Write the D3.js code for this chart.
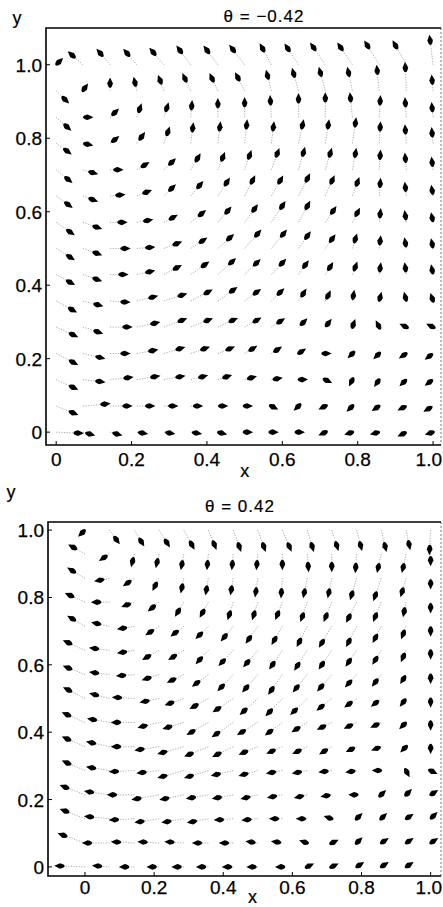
<!DOCTYPE html>
<html>
<head>
<meta charset="utf-8">
<script src="https://cdn.jsdelivr.net/npm/d3@7"></script>
<style>
  body { margin: 0; background: #fff; }
  text { font-family: "Liberation Sans", Arial, sans-serif; fill: #000; }
  .tick-label { font-size: 19px; stroke: #000; stroke-width: 0.25; }
  .title { font-size: 17px; letter-spacing: 1px; stroke: #000; stroke-width: 0.2; }
  .axis-label { font-size: 18px; stroke: #000; stroke-width: 0.2; }
  .tail { stroke: #888; stroke-width: 0.7; stroke-dasharray: 1.2,1.4; fill: none; }
  .head { fill: #000; }
  .frame { stroke: #000; stroke-width: 1.6; fill: none; }
  .frame-right { stroke: #777; stroke-width: 1; stroke-dasharray: 2,2; }
</style>
</head>
<body>
<script>
// grid points (tails of the arrows), same for both panels
var gridX = [0, 0.071, 0.143, 0.214, 0.286, 0.357, 0.429, 0.5, 0.571, 0.643, 0.714, 0.786, 0.857, 0.929, 1.0];
var gridY = [0, 0.071, 0.143, 0.214, 0.286, 0.357, 0.429, 0.5, 0.571, 0.643, 0.714, 0.786, 0.857, 0.929, 1.0];

var tickValues = [0, 0.2, 0.4, 0.6, 0.8, 1.0];
var tickLabels = ["0", "0.2", "0.4", "0.6", "0.8", "1.0"];

// theta = -0.42 : vector components, rows from y=0 (first) to y=1 (last)
var topU = [
  [22, 7, 7, 6, 6, 6, 4, 3, 2, 1, -2, -3, -4, -4, -3],
  [17, 22, 17, 13, 9, 7, 5, 3, 2, -1, -2, -2, -3, -4, -5],
  [17, 17, 18, 18, 16, 12, 9, 7, 6, 4, 2, -1, -2, -3, -4],
  [17, 17, 15, 16, 16, 14, 12, 8, 6, 3, 1, -1, -2, -3, -4],
  [17, 15, 17, 18, 18, 17, 15, 12, 9, 5, 3, 1, -1, -2, -2],
  [16, 15, 15, 16, 18, 17, 15, 12, 9, 5, 3, 1, 1, -1, -1],
  [14, 14, 13, 13, 13, 14, 14, 12, 11, 7, 5, 3, 1, -1, -1],
  [14, 14, 15, 13, 13, 12, 12, 13, 12, 9, 7, 3, 1, -1, -1],
  [14, 14, 12, 11, 9, 11, 10, 10, 11, 9, 8, 5, 1, -1, -1],
  [12, 10, 10, 10, 8, 9, 9, 8, 9, 9, 7, 5, 1, -1, -1],
  [12, 10, 8, 8, 8, 7, 5, 5, 6, 5, 5, 3, 1, -1, -1],
  [11, 5, 5, 5, 4, 2, 2, 2, 2, 4, 3, 3, 1, -1, -1],
  [11, 5, 5, 3, 3, 1, 0, 0, -1, 0, 0, -2, 1, -1, -1],
  [9, 2, 0, -2, -4, -6, -6, -7, -4, -5, -5, -4, -2, -1, -1],
  [3, -11, -10, -10, -11, -11, -11, -12, -9, -11, -12, -12, -12, -11, -3]
];
var topV = [
  [-1, -2, -2, -1, -1, -1, -1, 0, 0, 0, -1, -1, -1, -2, -1],
  [-7, 2, 0, 0, 0, 0, 0, 0, -1, -1, -1, -2, -2, -2, -3],
  [-8, -2, 2, 3, 3, 3, 3, 2, 1, 0, -1, -2, -3, -3, -3],
  [-9, -4, 0, 3, 5, 5, 5, 5, 4, 2, 0, -1, -2, -2, -3],
  [-8, -5, 0, 4, 7, 7, 7, 7, 6, 5, 4, 3, 2, 1, 1],
  [-9, -4, -1, 4, 6, 9, 11, 9, 9, 8, 6, 6, 4, 4, 3],
  [-8, -5, 0, 3, 7, 10, 13, 12, 12, 10, 8, 8, 7, 7, 5],
  [-9, -5, 0, 1, 5, 8, 11, 15, 15, 13, 10, 10, 8, 6, 5],
  [-10, -5, 0, 2, 5, 9, 12, 14, 17, 17, 12, 10, 9, 7, 5],
  [-9, -4, 1, 4, 8, 11, 14, 16, 16, 18, 16, 14, 13, 9, 6],
  [-10, -3, 0, 5, 8, 12, 13, 15, 17, 18, 17, 17, 15, 12, 8],
  [-8, -1, 4, 7, 12, 16, 17, 19, 17, 19, 19, 21, 17, 14, 11],
  [-10, 0, 5, 9, 10, 12, 14, 15, 17, 19, 20, 20, 17, 15, 10],
  [-9, 3, 8, 9, 11, 13, 13, 14, 16, 18, 19, 19, 21, 24, 11],
  [3, 10, 12, 12, 13, 15, 15, 16, 17, 17, 18, 18, 20, 20, 25]
];

// theta = 0.42
var botU = [
  [-25, -12, -10, -7, -7, -7, -6, -6, -2, 2, 2, 3, 3, 3, 0],
  [-22, -22, -18, -16, -14, -11, -9, -7, -6, -3, 2, 2, 3, 3, 3],
  [-20, -20, -20, -19, -17, -16, -14, -11, -8, -6, -3, 2, 2, 3, 3],
  [-20, -20, -22, -22, -19, -17, -16, -12, -10, -8, -6, -3, 1, 2, 3],
  [-18, -18, -20, -17, -21, -19, -17, -14, -11, -10, -8, -6, -4, 1, 2],
  [-18, -18, -18, -19, -21, -19, -16, -14, -11, -10, -8, -6, -5, -2, 0],
  [-18, -17, -18, -16, -16, -17, -17, -16, -13, -11, -10, -8, -6, -3, 0],
  [-17, -15, -17, -14, -14, -14, -16, -14, -13, -13, -11, -8, -6, -3, 0],
  [-17, -15, -13, -12, -12, -12, -12, -12, -11, -11, -11, -8, -6, -3, 0],
  [-17, -15, -12, -12, -11, -9, -11, -11, -10, -10, -10, -8, -6, -3, 0],
  [-13, -13, -12, -9, -9, -9, -9, -9, -8, -8, -10, -8, -6, -3, 0],
  [-15, -13, -8, -7, -6, -6, -4, -4, -5, -5, -6, -8, -6, -2, 0],
  [-13, -10, -7, -4, -2, -2, -2, -2, -1, -3, -3, -5, -6, -4, 0],
  [-12, -6, -2, -2, -2, -1, -1, -1, 0, 1, 0, -1, -3, -3, 0],
  [-3, 7, 7, 8, 8, 6, 6, 6, 7, 5, 5, 4, 4, 3, -1]
];
var botV = [
  [1, 1, 0, 0, 0, 0, 0, 0, 0, 1, 1, 2, 2, 2, 0],
  [8, 0, 1, 1, 1, 0, 0, 1, 1, 1, 1, 2, 2, 2, 2],
  [8, 2, -1, -3, -3, -3, -1, -1, 0, 0, 1, 2, 2, 2, 3],
  [8, 3, 0, -4, -4, -3, -3, -3, -2, -2, -1, 0, 1, 2, 2],
  [8, 3, -1, -2, -6, -6, -4, -4, -2, -2, -1, -1, 0, -2, -1],
  [8, 4, 0, -3, -6, -8, -8, -6, -5, -5, -5, -3, -2, -2, -2],
  [8, 3, 0, -4, -5, -10, -12, -10, -10, -7, -5, -4, -3, -3, -3],
  [9, 4, 1, -3, -5, -8, -11, -13, -14, -13, -9, -6, -5, -4, -4],
  [7, 2, -1, -4, -6, -9, -13, -14, -16, -14, -13, -9, -8, -5, -4],
  [8, 2, -2, -7, -7, -10, -12, -13, -15, -16, -15, -12, -10, -7, -4],
  [8, 3, -2, -6, -7, -9, -11, -13, -14, -16, -17, -16, -12, -8, -5],
  [7, 0, -3, -6, -10, -11, -13, -13, -13, -15, -15, -16, -15, -10, -6],
  [8, -2, -5, -8, -10, -12, -12, -14, -15, -15, -15, -17, -18, -14, -6],
  [7, -4, -8, -9, -11, -11, -11, -11, -11, -13, -13, -14, -14, -14, -7],
  [-3, -10, -12, -13, -15, -15, -17, -17, -17, -17, -16, -16, -17, -15, -20]
];

var svg = d3.select("body").append("svg")
    .attr("width", 443)
    .attr("height", 907);

// arrow head, pointing along +x, centred on the vector end
var headPath = "M5.4,0 L-0.4,-2.8 Q-5,-1.8 -5,0 Q-5,1.8 -0.4,2.8 Z";

function drawPanel(p) {
  var x = d3.scaleLinear().domain(p.xDomain).range([p.left, p.right]);
  var y = d3.scaleLinear().domain(p.yDomain).range([p.bottom, p.top]);
  var g = svg.append("g");

  // arrows
  var arrows = [];
  p.u.forEach(function(row, j) {
    row.forEach(function(u, i) {
      var v = p.v[j][i];
      if (u === 0 && v === 0) return;
      arrows.push({x: gridX[i], y: gridY[j], u: u, v: v});
    });
  });

  var a = g.selectAll(".arrow").data(arrows).enter().append("g")
      .attr("class", "arrow");

  a.append("line")
      .attr("class", "tail")
      .attr("x1", function(d) { return x(d.x); })
      .attr("y1", function(d) { return y(d.y); })
      .attr("x2", function(d) { return x(d.x + d.u * p.k); })
      .attr("y2", function(d) { return y(d.y + d.v * p.k); });

  a.append("path")
      .attr("class", "head")
      .attr("d", headPath)
      .attr("transform", function(d) {
        var x1 = x(d.x + d.u * p.k), y1 = y(d.y + d.v * p.k);
        var ang = Math.atan2(y1 - y(d.y), x1 - x(d.x)) * 180 / Math.PI;
        return "translate(" + x1 + "," + y1 + ") rotate(" + ang + ")";
      });

  // frame
  g.append("line").attr("class", "frame-right")
      .attr("x1", p.right).attr("y1", p.top).attr("x2", p.right).attr("y2", p.bottom);
  g.append("path").attr("class", "frame")
      .attr("d", "M" + p.right + "," + p.top + "H" + p.left + "V" + p.bottom + "H" + p.right);

  // ticks
  g.selectAll(".xtick").data(tickValues).enter().append("line")
      .attr("stroke", "#000").attr("stroke-width", 1)
      .attr("x1", function(d) { return x(d); }).attr("x2", function(d) { return x(d); })
      .attr("y1", p.bottom).attr("y2", p.bottom - 4);
  g.selectAll(".ytick").data(tickValues).enter().append("line")
      .attr("stroke", "#000").attr("stroke-width", 1)
      .attr("y1", function(d) { return y(d); }).attr("y2", function(d) { return y(d); })
      .attr("x1", p.left).attr("x2", p.left + 4);

  // tick labels (the last x label is kept inside the page edge)
  g.selectAll(".xlab").data(tickValues).enter().append("text")
      .attr("class", "tick-label")
      .attr("text-anchor", function(d, i) { return i === tickValues.length - 1 ? "end" : "middle"; })
      .attr("x", function(d, i) { return i === tickValues.length - 1 ? 442 : x(d); })
      .attr("y", p.xTickBase)
      .text(function(d, i) { return tickLabels[i]; });
  g.selectAll(".ylab").data(tickValues).enter().append("text")
      .attr("class", "tick-label")
      .attr("text-anchor", "end")
      .attr("x", p.left - 4)
      .attr("y", function(d) { return y(d) + 7; })
      .text(function(d, i) { return tickLabels[i]; });

  // axis names and title
  g.append("text").attr("class", "axis-label")
      .attr("text-anchor", "middle")
      .attr("x", x(p.xLabelAt)).attr("y", p.xLabelBase)
      .text("x");
  g.append("text").attr("class", "axis-label")
      .attr("text-anchor", "middle")
      .attr("x", p.yLabelX).attr("y", p.yLabelBase)
      .text("y");
  g.append("text").attr("class", "title")
      .attr("text-anchor", "middle")
      .attr("x", p.titleX).attr("y", p.titleBase)
      .text(p.title);
}

drawPanel({
  left: 46, right: 441, top: 28, bottom: 445,
  xDomain: [-0.027, 1.021], yDomain: [-0.035, 1.10],
  u: topU, v: topV, k: 1 / 372,
  xTickBase: 466, xLabelAt: 0.5, xLabelBase: 477,
  yLabelX: 17, yLabelBase: 24,
  title: "\u03b8 = \u22120.42", titleX: 264, titleBase: 22
});

drawPanel({
  left: 48, right: 441, top: 522, bottom: 876,
  xDomain: [-0.107, 1.03], yDomain: [-0.027, 1.024],
  u: botU, v: botV, k: 1 / 341,
  xTickBase: 894, xLabelAt: 0.485, xLabelBase: 903,
  yLabelX: 11, yLabelBase: 498,
  title: "\u03b8 = 0.42", titleX: 240, titleBase: 512
});
</script>
</body>
</html>
